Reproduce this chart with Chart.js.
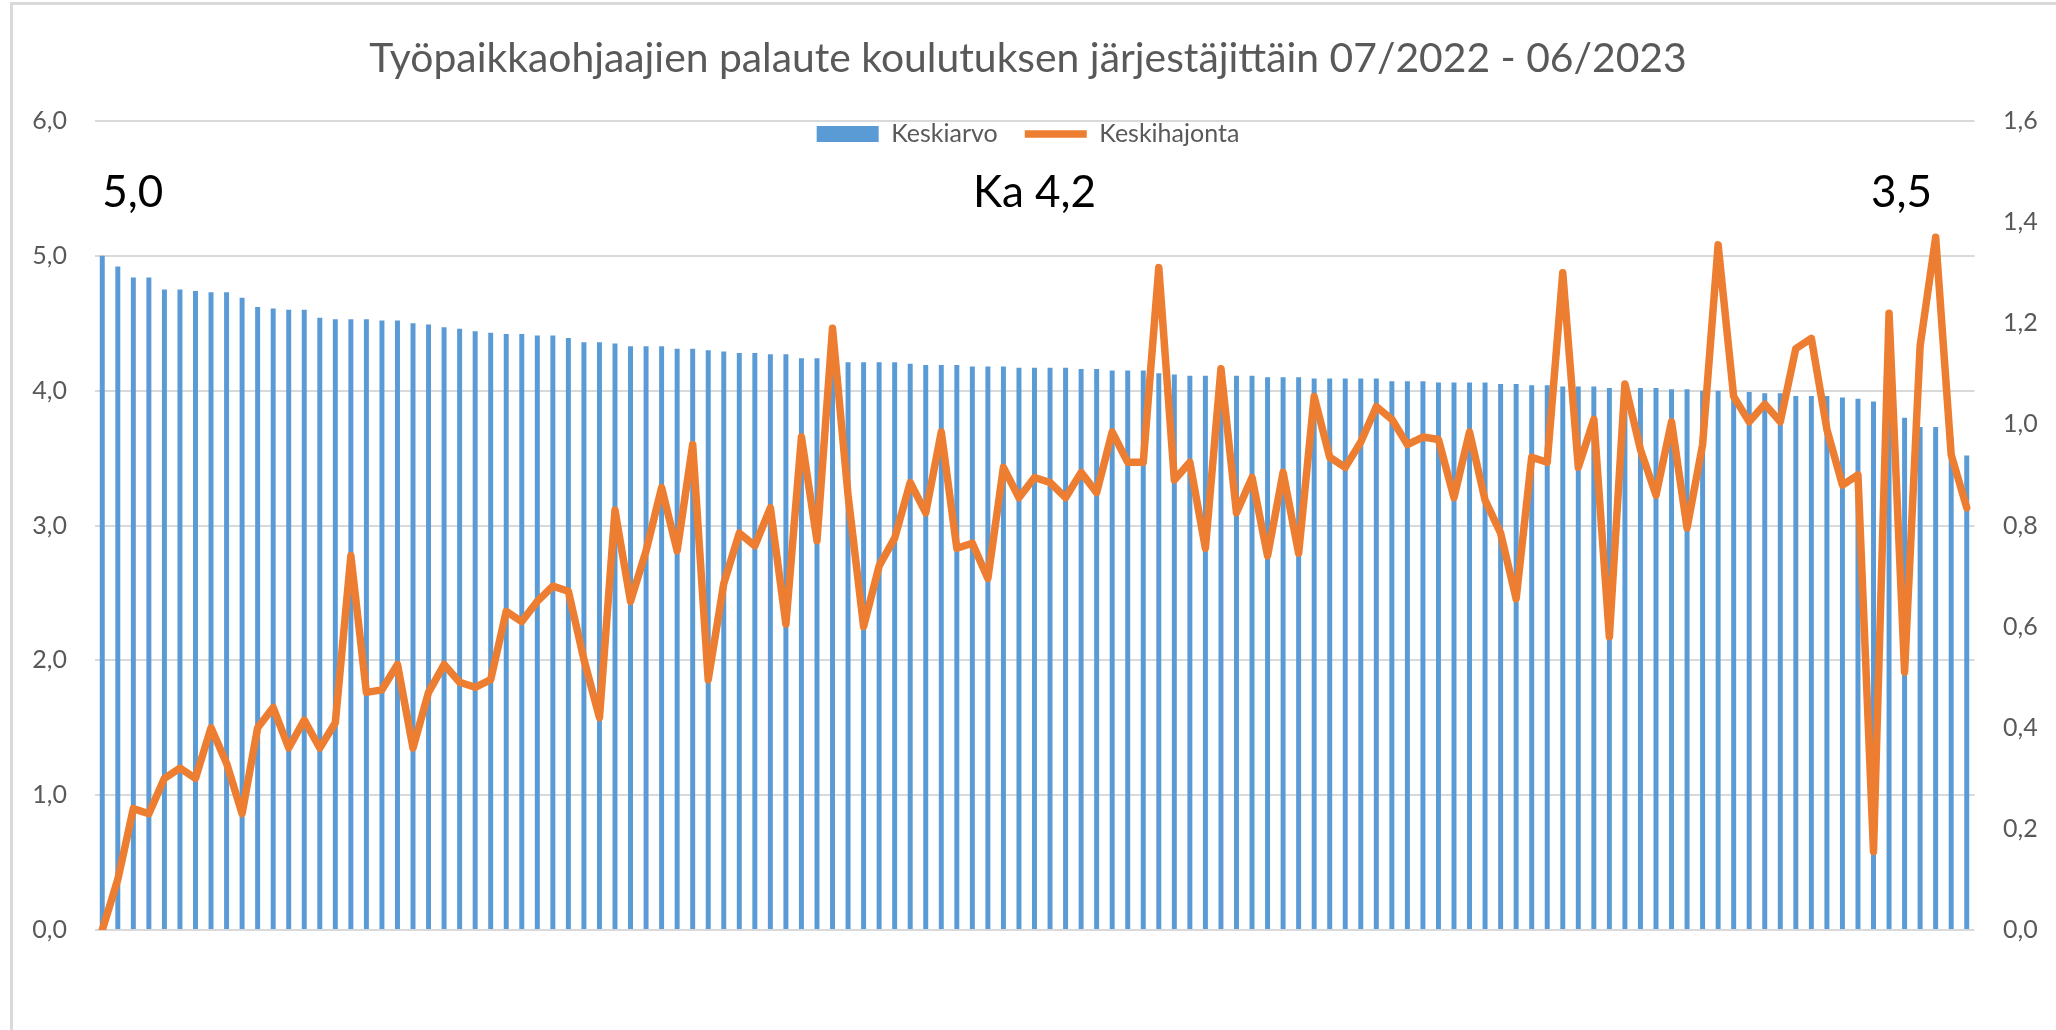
<!DOCTYPE html>
<html lang="fi">
<head>
<meta charset="utf-8">
<title>Työpaikkaohjaajien palaute</title>
<script src="https://cdn.jsdelivr.net/npm/chart.js@4.4.1/dist/chart.umd.min.js"></script>
<style>
    html, body { margin: 0; padding: 0; background: #ffffff; }
    #wrap { position: relative; width: 2056px; height: 1030px; overflow: hidden; }
    #frame {
        position: absolute; left: 10px; top: 2px; width: 2200px; height: 1200px;
        border-left: 3px solid #d9d9d9; border-top: 3px solid #d9d9d9;
    }
    canvas { position: absolute; left: 0; top: 0; }
</style>
</head>
<body>
<div id="wrap">
    <div id="frame"></div>
    <canvas id="chart" width="2056" height="1030"></canvas>
</div>
<script>
// ============================================================
// Data
// ============================================================

const chartTitle = "Työpaikkaohjaajien palaute koulutuksen järjestäjittäin 07/2022 - 06/2023";
const seriesNames = ["Keskiarvo", "Keskihajonta"];

// Keskiarvo per järjestäjä (left axis), sorted high -> low
const keskiarvo = [
    5.00, 4.92, 4.84, 4.84, 4.75, 4.75, 4.74, 4.73, 4.73, 4.69,
    4.62, 4.61, 4.60, 4.60, 4.54, 4.53, 4.53, 4.53, 4.52, 4.52,
    4.50, 4.49, 4.47, 4.46, 4.44, 4.43, 4.42, 4.42, 4.41, 4.41,
    4.39, 4.36, 4.36, 4.35, 4.33, 4.33, 4.33, 4.31, 4.31, 4.30,
    4.29, 4.28, 4.28, 4.27, 4.27, 4.24, 4.24, 4.23, 4.21, 4.21,
    4.21, 4.21, 4.20, 4.19, 4.19, 4.19, 4.18, 4.18, 4.18, 4.17,
    4.17, 4.17, 4.17, 4.16, 4.16, 4.15, 4.15, 4.15, 4.13, 4.12,
    4.11, 4.11, 4.11, 4.11, 4.11, 4.10, 4.10, 4.10, 4.09, 4.09,
    4.09, 4.09, 4.09, 4.07, 4.07, 4.07, 4.06, 4.06, 4.06, 4.06,
    4.05, 4.05, 4.04, 4.04, 4.03, 4.03, 4.03, 4.02, 4.02, 4.02,
    4.02, 4.01, 4.01, 4.00, 4.00, 3.99, 3.99, 3.98, 3.98, 3.96,
    3.96, 3.96, 3.95, 3.94, 3.92, 3.88, 3.80, 3.73, 3.73, 3.65,
    3.52
];

// Keskihajonta per järjestäjä (right axis)
const keskihajonta = [
    0.00, 0.10, 0.24, 0.23, 0.30, 0.32, 0.30, 0.40, 0.33, 0.23,
    0.40, 0.44, 0.36, 0.415, 0.36, 0.41, 0.74, 0.47, 0.475, 0.525,
    0.36, 0.47, 0.525, 0.49, 0.48, 0.495, 0.63, 0.61, 0.65, 0.68,
    0.67, 0.535, 0.42, 0.83, 0.65, 0.75, 0.875, 0.75, 0.96, 0.495,
    0.685, 0.785, 0.76, 0.835, 0.605, 0.975, 0.77, 1.19, 0.86, 0.60,
    0.72, 0.775, 0.885, 0.825, 0.985, 0.755, 0.765, 0.695, 0.915, 0.855,
    0.895, 0.885, 0.855, 0.905, 0.865, 0.985, 0.925, 0.925, 1.31, 0.89,
    0.925, 0.755, 1.11, 0.825, 0.895, 0.74, 0.905, 0.745, 1.055, 0.935,
    0.915, 0.965, 1.035, 1.01, 0.96, 0.975, 0.97, 0.855, 0.985, 0.85,
    0.785, 0.655, 0.935, 0.925, 1.30, 0.915, 1.01, 0.58, 1.08, 0.95,
    0.86, 1.005, 0.795, 0.96, 1.355, 1.055, 1.005, 1.04, 1.005, 1.15,
    1.17, 0.99, 0.88, 0.90, 0.155, 1.22, 0.51, 1.155, 1.37, 0.94,
    0.835
];

// hidden category labels (one per järjestäjä)
const categories = keskiarvo.map((_, i) => "Järjestäjä " + (i + 1));

// axis ranges: [min, max, step]
const leftAxis = [0, 6, 1];
const rightAxis = [0, 1.6, 0.2];

// free text boxes on top of the plot
const noteTexts = ["5,0", "Ka 4,2", "3,5"];


// ============================================================
// Styling helpers
// ============================================================

const GRAY = "#595959";
const FONT = "Lato";

// title sized so it spans the same width as in the original
const measureCtx = document.createElement("canvas").getContext("2d");
measureCtx.font = "400 100px " + FONT;
const titleSize = 100 * 1318 / measureCtx.measureText(chartTitle).width;

const fmt = v => Number(v).toFixed(1).replace(".", ",");

// text boxes, anchored to the scales
const notesPlugin = {
    id: "notes",
    afterDatasetsDraw(chart, args, opts) {
        const { ctx } = chart;
        const x = chart.scales.x;
        const y = chart.scales.y;
        ctx.save();
        ctx.font = opts.font;
        ctx.fillStyle = opts.color;
        ctx.textBaseline = "middle";
        opts.anchors.forEach((a, i) => {
            ctx.textAlign = a.align;
            ctx.fillText(noteTexts[i], x.getPixelForValue(a.x), y.getPixelForValue(a.y));
        });
        ctx.restore();
    }
};

// the legend sits just under the top gridline, inside the plot:
// keep its layout slot thin but let it draw (it clips to its own box)
const legendOverlapPlugin = {
    id: "legendOverlap",
    afterLayout(chart) {
        const lg = chart.legend;
        if (!lg) return;
        lg.bottom = lg.top + 70;
        lg.height = 70;
    }
};


// ============================================================
// Chart
// ============================================================

const ctx = document.getElementById("chart").getContext("2d");

new Chart(ctx, {
    type: "bar",
    data: {
        labels: categories,
        datasets: [
            {
                type: "bar",
                label: seriesNames[0],
                data: keskiarvo,
                yAxisID: "y",
                backgroundColor: "#5B9BD5",
                borderWidth: 0,
                barPercentage: 0.32,
                categoryPercentage: 1.0,
                pointStyle: "rect",
                order: 1
            },
            {
                type: "line",
                label: seriesNames[1],
                data: keskihajonta,
                yAxisID: "y1",
                borderColor: "#ED7D31",
                backgroundColor: "#ED7D31",
                borderWidth: 7.5,
                borderJoinStyle: "round",
                borderCapStyle: "round",
                pointRadius: 0,
                pointHoverRadius: 0,
                pointStyle: "line",
                tension: 0,
                order: 0
            }
        ]
    },
    options: {
        responsive: false,
        devicePixelRatio: 1,
        animation: false,
        layout: {
            padding: { left: 0, right: 0, top: 0, bottom: 100 }
        },
        scales: {
            x: {
                display: false
            },
            y: {
                position: "left",
                min: leftAxis[0],
                max: leftAxis[1],
                ticks: {
                    stepSize: leftAxis[2],
                    color: GRAY,
                    padding: 27.5,
                    font: { family: FONT, size: 25 },
                    callback: v => fmt(v)
                },
                grid: {
                    color: "#d9d9d9",
                    lineWidth: 2,
                    drawTicks: false
                },
                border: { display: false },
                afterFit: scale => { scale.width = 94.5; }
            },
            y1: {
                position: "right",
                min: rightAxis[0],
                max: rightAxis[1],
                ticks: {
                    stepSize: rightAxis[2],
                    color: GRAY,
                    padding: 28.5,
                    font: { family: FONT, size: 25 },
                    callback: v => fmt(v)
                },
                grid: { display: false, drawTicks: false },
                border: { display: false },
                afterFit: scale => { scale.width = 81.5; }
            }
        },
        plugins: {
            title: {
                display: true,
                text: chartTitle,
                color: GRAY,
                font: { family: FONT, size: titleSize, weight: 400, lineHeight: 1.2 },
                padding: {
                    top: 59 - 0.6 * titleSize,
                    bottom: 35.5 - 0.6 * titleSize
                }
            },
            legend: {
                display: true,
                position: "top",
                align: "center",
                reverse: true,
                maxHeight: 26.5,
                labels: {
                    usePointStyle: true,
                    pointStyleWidth: 62,
                    boxHeight: 16,
                    padding: 27,
                    color: GRAY,
                    font: { family: FONT, size: 25 }
                }
            },
            tooltip: { enabled: false },
            notes: {
                font: "44px " + FONT,
                color: "#000000",
                anchors: [
                    { x: 0, y: 5.47, align: "left" },
                    { x: 60, y: 5.47, align: "center" },
                    { x: 115.8, y: 5.47, align: "center" }
                ]
            }
        }
    },
    plugins: [notesPlugin, legendOverlapPlugin]
});
</script>
</body>
</html>
